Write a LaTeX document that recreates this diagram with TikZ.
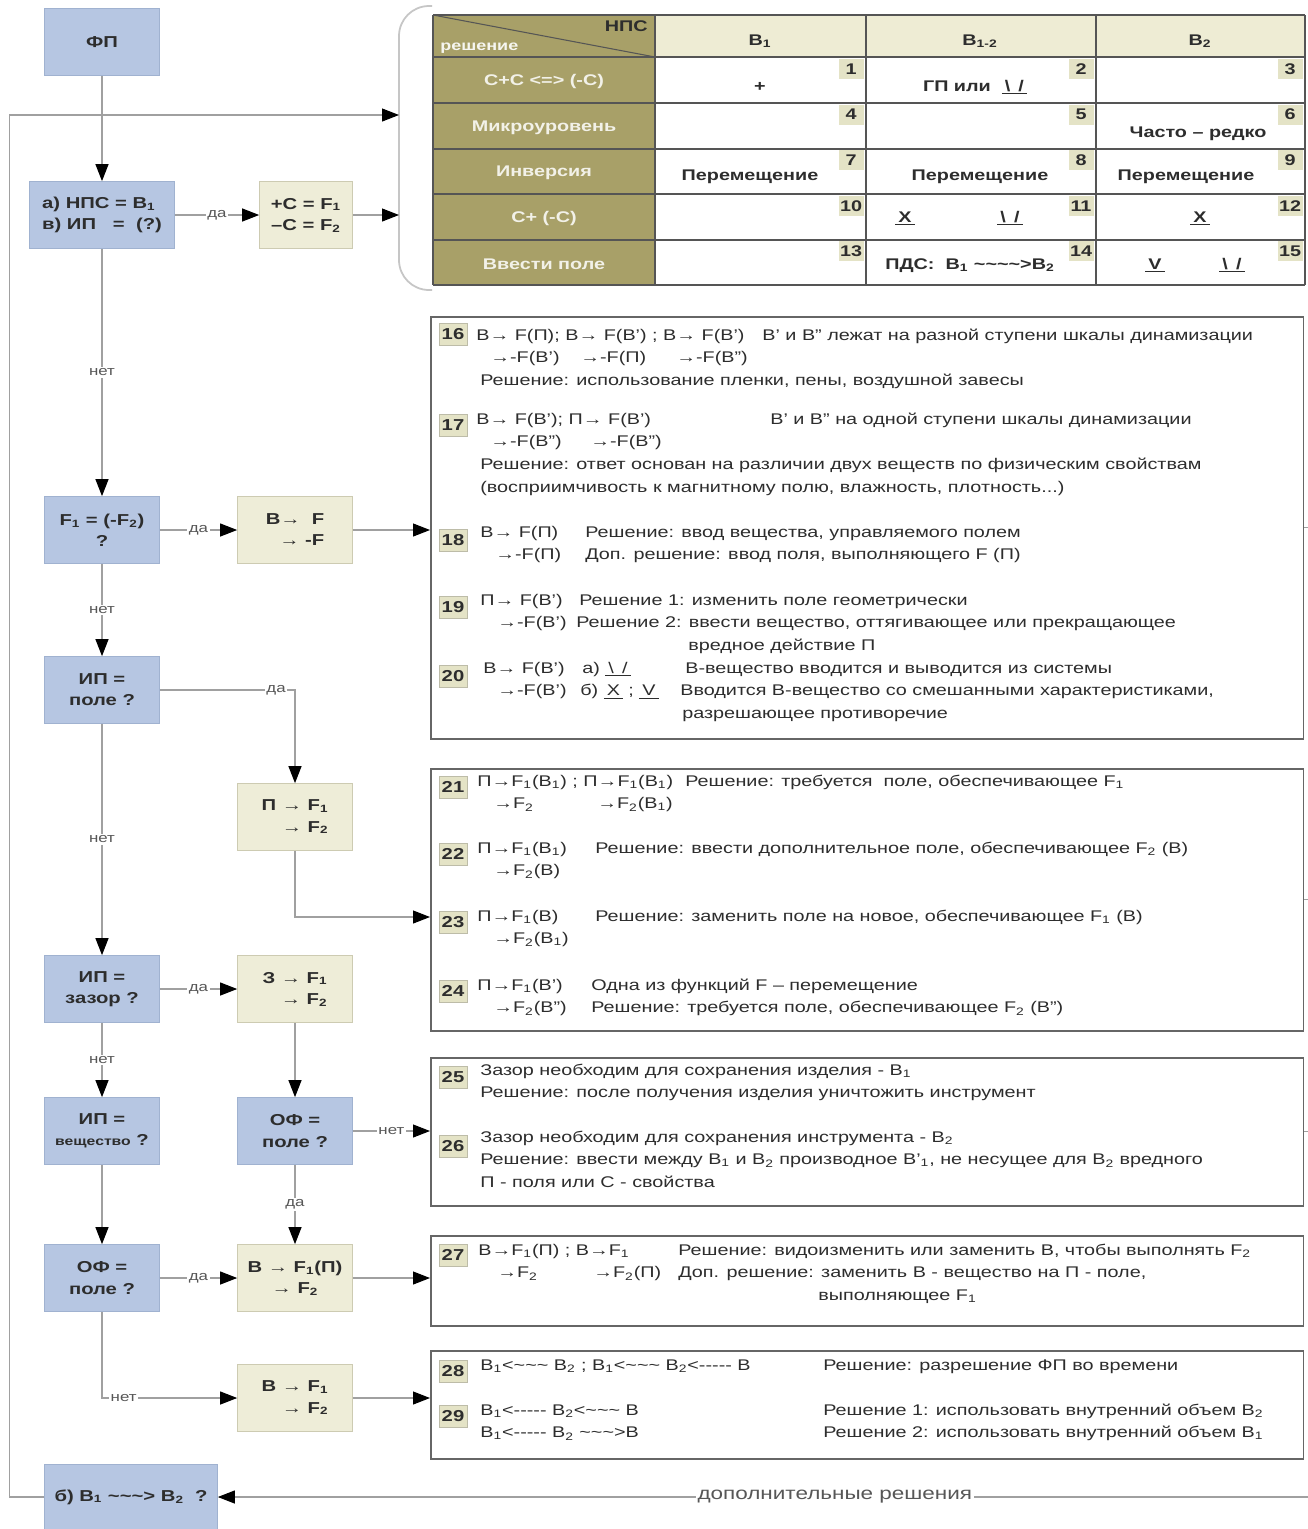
\documentclass[tikz,border=0pt]{standalone}
\usepackage{fontspec}
\setmainfont{Liberation Sans}[FakeStretch=1.28]
\usetikzlibrary{arrows.meta, positioning}

\definecolor{qblue}{RGB}{182,198,226}
\definecolor{qedge}{RGB}{160,178,208}
\definecolor{abeige}{RGB}{238,237,216}
\definecolor{aedge}{RGB}{205,203,178}
\definecolor{olive1}{RGB}{168,160,104}
\definecolor{headbeige}{RGB}{238,236,212}
\definecolor{tagbeige}{RGB}{228,227,198}
\definecolor{gridgray}{RGB}{85,85,85}
\definecolor{conngray}{RGB}{160,160,160}
\definecolor{txtdark}{RGB}{45,45,45}

\newlength\pxu \setlength\pxu{0.02cm}
\newcommand\lo[1]{\textsubscript{#1}}
\newcommand\colbox[2]{\makebox[#1\pxu][l]{#2}}
\newcommand\ind[1]{\hspace*{#1\pxu}}
\newcommand\wv{\textasciitilde}
\newcommand\dsh{-{}-{}-{}-{}-}
\newcommand\sym[1]{\underline{\hspace{3\pxu}#1\hspace{3\pxu}}}
\newcommand\bsl{\textbackslash\ \,/}

\begin{document}
\begin{tikzpicture}[x=0.02cm, y=-0.02cm,
  q/.style={draw=qedge, fill=qblue, minimum width=2.3cm, minimum height=1.34cm, align=center, inner sep=2pt, font=\bfseries\fontsize{9}{12}\selectfont, text=txtdark},
  act/.style={q, draw=aedge, fill=abeige},
  conn/.style={draw=conngray, line width=0.6pt},
  arr/.style={conn, -{Triangle[length=3.4mm, width=2.6mm, color=black]}},
  lbl/.style={fill=white, inner sep=1pt, font=\fontsize{7.5}{9}\selectfont, text=txtdark!80},
  solbox/.style={draw=gray!80!black, line width=0.9pt, minimum width=17.46cm, anchor=north west, inner sep=0pt},
  numtag/.style={draw=aedge!80!gray, fill=tagbeige, inner sep=0pt, minimum width=0.56cm, minimum height=0.44cm, font=\bfseries\fontsize{9}{10}\selectfont, text=txtdark},
  entry/.style={anchor=base west, inner sep=0pt, font=\fontsize{8.8}{13.04}\selectfont, text=txtdark},
  rowlab/.style={font=\bfseries\fontsize{8.8}{10}\selectfont, text=white!85!olive1},
  celltag/.style={fill=tagbeige, inner sep=0pt, minimum width=0.5cm, minimum height=0.4cm, font=\bfseries\fontsize{8.8}{10}\selectfont, text=txtdark},
  celltxt/.style={anchor=base, inner sep=0pt, font=\bfseries\fontsize{8.8}{10}\selectfont, text=txtdark},
  tabline/.style={draw=gridgray, line width=0.9pt}
]
\fill[white] (0,0) rectangle (1308,1529);
\useasboundingbox (0,0) rectangle (1308,1529);

% solution boxes
\node[solbox, minimum height=8.44cm] (boxA) at (430,316) {};
\node[solbox, minimum height=5.24cm] (boxB) at (430,768) {};
\node[solbox, minimum height=2.96cm] (boxC) at (430,1057) {};
\node[solbox, minimum height=1.8cm] (boxD) at (430,1235) {};
\node[solbox, minimum height=2.16cm] (boxE) at (430,1350) {};
\draw[conn] (boxA.east) -- ++(6,0);
\draw[conn] (boxB.east) -- ++(6,0);
\draw[conn] (boxC.east) -- ++(6,0);

% table
\fill[olive1] (433,15) rectangle (655,285);
\fill[headbeige] (655,15) rectangle (1305,57);
\foreach \y in {15,57,103,149,194,240,285} \draw[tabline] (433,\y) -- (1305,\y);
\foreach \x in {433,655,866,1096,1305} \draw[tabline] (\x,15) -- (\x,285);
\draw[tabline, line width=0.6pt] (433,15) -- (655,57);
\node[celltxt, anchor=base east] (npc) at (648,31) {НПС};
\node[celltxt, anchor=base west, text=white!90!olive1, font=\bfseries\fontsize{8}{9}\selectfont] (resh) at (440,50) {решение};
\node[celltxt] (h1) at (760,45) {В\lo1};
\node[celltxt] (h2) at (980,45) {В\lo{1-2}};
\node[celltxt] (h3) at (1200,45) {В\lo2};
\foreach \lab [count=\r] in {С+С <=> (-С), Микроуровень, Инверсия, С+ (-С), Ввести поле}
  \node[rowlab] (row\r) at (544,{57+45.6*(\r-0.5)+2}) {\lab};
\foreach \r in {1,...,5}
  \foreach \c/\xr in {1/866,2/1096,3/1305} {
    \pgfmathtruncatemacro\tn{3*(\r-1)+\c}
    \node[celltag] (n\tn) at ({\xr-15},{57+45.6*(\r-1)+12}) {\tn};
  }
\node[celltxt] (c1) at (760,91) {+};
\node[celltxt] (c2) at (975,91) {ГП или \ \sym{\bsl}};
\node[celltxt] (c6) at (1198,137) {Часто – редко};
\node[celltxt] (c7) at (750,180) {Перемещение};
\node[celltxt] (c8) at (980,180) {Перемещение};
\node[celltxt] (c9) at (1186,180) {Перемещение};
\node[celltxt] (c11a) at (905,222) {\sym{X}};
\node[celltxt] (c11b) at (1010,222) {\sym{\bsl}};
\node[celltxt] (c12) at (1200,222) {\sym{X}};
\node[celltxt] (c14) at (970,269) {ПДС:\ \ В\lo1 \wv\wv\wv\wv>В\lo2};
\node[celltxt] (c15a) at (1155,269) {\sym{V}};
\node[celltxt] (c15b) at (1232,269) {\sym{\bsl}};
\draw[draw=gray!45, line width=1pt, rounded corners=0.6cm] (432,6) -- (399,6) -- (399,290) -- (432,290);

% flow
\node[q] (fp) at (102,42) {ФП};
\node[q, minimum width=2.9cm, align=left] (qa) at (102,215) {а) НПС = В\lo1\\в) ИП\ \ \ =\ \ (?)};
\node[act, minimum width=1.86cm] (fc) at (306,215) {+С = F\lo1\\–С = F\lo2};
\node[q] (qf) at (102,530) {F\lo1 = (-F\lo2)\\?};
\node[act, align=right] (ab) at (295,530) {В→ \ F\\→ -F};
\node[q] (qp) at (102,690) {ИП =\\поле ?};
\node[act, align=right] (ap) at (295,817) {П → F\lo1\\→ F\lo2};
\node[q] (qz) at (102,989) {ИП =\\зазор ?};
\node[act, align=right] (az) at (295,989) {З → F\lo1\\→ F\lo2};
\node[q] (qv) at (102,1131) {ИП =\\{\fontsize{7}{9}\selectfont вещество} ?};
\node[q] (qo2) at (295,1131) {ОФ =\\поле ?};
\node[q] (qo) at (102,1278) {ОФ =\\поле ?};
\node[act] (af2) at (295,1278) {В → F\lo1(П)\\→ F\lo2};
\node[act, align=right] (af) at (295,1398) {В → F\lo1\\→ F\lo2};
\node[q, minimum width=3.46cm, minimum height=1.3cm] (bq) at (131,1497) {б) В\lo1 \wv\wv\wv> В\lo2\ \ ?};

\coordinate (brace) at (399,115);
\coordinate (inB) at (430,917);
\coordinate (rt) at (1308,1497);
\draw[arr] (bq.west) -- ++(-35,0) |- (brace);
\draw[arr] (fp) -- (qa);
\draw[arr] (qa) -- node[lbl]{да} (fc);
\draw[arr] (fc) -- (fc -| brace);
\draw[arr] (qa) -- node[lbl]{нет} (qf);
\draw[arr] (qf) -- node[lbl]{да} (ab);
\draw[arr] (ab) -- (ab -| boxA.west);
\draw[arr] (qf) -- node[lbl]{нет} (qp);
\draw[arr] (qp) -| node[lbl, pos=0.43]{да} (ap);
\draw[arr] (qp) -- node[lbl]{нет} (qz);
\draw[arr] (ap) |- (inB);
\draw[arr] (qz) -- node[lbl]{да} (az);
\draw[arr] (az) -- (qo2);
\draw[arr] (qz) -- node[lbl]{нет} (qv);
\draw[arr] (qo2) -- node[lbl]{нет} (qo2 -| boxC.west);
\draw[arr] (qo2) -- node[lbl]{да} (af2);
\draw[arr] (qv) -- (qo);
\draw[arr] (qo) -- node[lbl]{да} (af2);
\draw[arr] (af2) -- (af2 -| boxD.west);
\draw[arr] (qo) |- node[lbl, pos=0.58]{нет} (af);
\draw[arr] (af) -- (af -| boxE.west);
\draw[arr] (rt) -- node[lbl, pos=0.434, font=\fontsize{10}{12}\selectfont]{дополнительные решения} (bq);

% numbered entries
\foreach \tn/\ty in {16/334,17/425,18/540,19/607,20/676,21/787,22/854,23/922,24/991,25/1077,26/1146,27/1255,28/1371,29/1416}
  \node[numtag] (t\tn) at (453,\ty) {\tn};

\node[entry] (e16) at (476,340) {\begin{tabular}[t]{@{}l@{}}
\colbox{286}{В→ F(П); В→ F(В') ; В→ F(В')}В' и В" лежат на разной ступени шкалы динамизации\\
\ind{14}\colbox{90}{→-F(В')}\colbox{96}{→-F(П)}→-F(В")\\
\ind{4}Решение: использование пленки, пены, воздушной завесы
\end{tabular}};
\node[entry] (e17) at (476,424) {\begin{tabular}[t]{@{}l@{}}
\colbox{294}{В→ F(В'); П→ F(В')}В' и В" на одной ступени шкалы динамизации\\
\ind{14}\colbox{100}{→-F(В")}→-F(В")\\
\ind{4}Решение: ответ основан на различии двух веществ по физическим свойствам\\
\ind{4}(восприимчивость к магнитному полю, влажность, плотность...)
\end{tabular}};
\node[entry] (e18) at (480,537) {\begin{tabular}[t]{@{}l@{}}
\colbox{105}{В→ F(П)}Решение: ввод вещества, управляемого полем\\
\ind{15}\colbox{90}{→-F(П)}Доп. решение: ввод поля, выполняющего F (П)
\end{tabular}};
\node[entry] (e19) at (480,605) {\begin{tabular}[t]{@{}l@{}}
\colbox{99}{П→ F(В')}Решение 1: изменить поле геометрически\\
\ind{17}\colbox{79}{→-F(В')}Решение 2: ввести вещество, оттягивающее или прекращающее\\
\ind{208}вредное действие П
\end{tabular}};
\node[entry] (e20) at (483,673) {\begin{tabular}[t]{@{}l@{}}
\colbox{99}{В→ F(В')}\colbox{103}{а) \sym{\bsl}}В-вещество вводится и выводится из системы\\
\ind{14}\colbox{83}{→-F(В')}\colbox{100}{б) \sym{X} ; \sym{V}}Вводится В-вещество со смешанными характеристиками,\\
\ind{199}разрешающее противоречие
\end{tabular}};

\node[entry] (e21) at (477,786) {\begin{tabular}[t]{@{}l@{}}
\colbox{208}{П→F\lo1(В\lo1) ; П→F\lo1(В\lo1)}Решение: требуется\ \ поле, обеспечивающее F\lo1\\
\ind{16}\colbox{104}{→F\lo2}→F\lo2(В\lo1)
\end{tabular}};
\node[entry] (e22) at (477,853) {\begin{tabular}[t]{@{}l@{}}
\colbox{118}{П→F\lo1(В\lo1)}Решение: ввести дополнительное поле, обеспечивающее F\lo2 (В)\\
\ind{16}→F\lo2(В)
\end{tabular}};
\node[entry] (e23) at (477,921) {\begin{tabular}[t]{@{}l@{}}
\colbox{118}{П→F\lo1(В)}Решение: заменить поле на новое, обеспечивающее F\lo1 (В)\\
\ind{16}→F\lo2(В\lo1)
\end{tabular}};
\node[entry] (e24) at (477,990) {\begin{tabular}[t]{@{}l@{}}
\colbox{114}{П→F\lo1(В')}Одна из функций F – перемещение\\
\ind{16}\colbox{98}{→F\lo2(В")}Решение: требуется поле, обеспечивающее F\lo2 (В")
\end{tabular}};

\node[entry] (e25) at (480,1075) {\begin{tabular}[t]{@{}l@{}}
Зазор необходим для сохранения изделия - В\lo1\\
Решение: после получения изделия уничтожить инструмент
\end{tabular}};
\node[entry] (e26) at (480,1142) {\begin{tabular}[t]{@{}l@{}}
Зазор необходим для сохранения инструмента - В\lo2\\
Решение: ввести между В\lo1 и В\lo2 производное В'\lo1, не несущее для В\lo2 вредного\\
П - поля или С - свойства
\end{tabular}};

\node[entry] (e27) at (478,1255) {\begin{tabular}[t]{@{}l@{}}
\colbox{200}{В→F\lo1(П) ; В→F\lo1}Решение: видоизменить или заменить В, чтобы выполнять F\lo2\\
\ind{19}\colbox{96}{→F\lo2}\colbox{85}{→F\lo2(П)}Доп. решение: заменить В - вещество на П - поле,\\
\ind{340}выполняющее F\lo1
\end{tabular}};

\node[entry] (e28) at (480,1370) {\colbox{343}{В\lo1<\wv\wv\wv{} В\lo2 ; В\lo1<\wv\wv\wv{} В\lo2<\dsh{} В}Решение: разрешение ФП во времени};
\node[entry] (e29) at (480,1415) {\begin{tabular}[t]{@{}l@{}}
\colbox{343}{В\lo1<\dsh{} В\lo2<\wv\wv\wv{} В}Решение 1: использовать внутренний объем В\lo2\\
\colbox{343}{В\lo1<\dsh{} В\lo2 \wv\wv\wv>В}Решение 2: использовать внутренний объем В\lo1
\end{tabular}};
\end{tikzpicture}
\end{document}
